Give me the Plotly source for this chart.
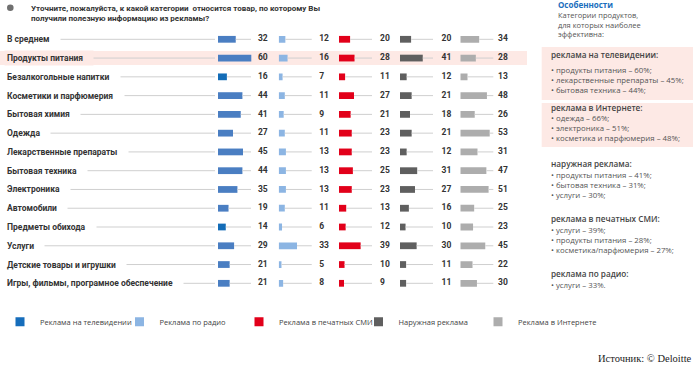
import plotly.graph_objects as go

# ---------------- data ----------------
categories = ["В среднем", "Продукты питания", "Безалкогольные напитки",
              "Косметики и парфюмерия", "Бытовая химия", "Одежда",
              "Лекарственные препараты", "Бытовая техника", "Электроника",
              "Автомобили", "Предметы обихода", "Услуги",
              "Детские товары и игрушки", "Игры, фильмы, програмное обеспечение"]
tv =       [32, 60, 16, 44, 41, 27, 45, 44, 35, 19, 14, 29, 21, 21]
radio =    [12, 16, 7, 11, 9, 11, 13, 13, 13, 11, 6, 33, 5, 8]
press =    [20, 28, 11, 27, 21, 23, 23, 25, 23, 13, 12, 39, 10, 9]
outdoor =  [20, 41, 12, 21, 18, 21, 12, 31, 27, 16, 10, 30, 11, 11]
internet = [34, 28, 13, 48, 26, 53, 31, 47, 51, 25, 23, 45, 22, 30]
series_names = ["Реклама на телевидении", "Реклама по радио", "Реклама в печатных СМИ",
                "Наружная реклама", "Реклама в Интернете"]
highlight_row = "Продукты питания"

title_text = ("Уточните, пожалуйста, к какой категории  относится товар, по которому Вы<br>"
              "получили полезную информацию из рекламы?")
panel_title = "Особенности"
panel_intro = ["Категории продуктов,", "для которых наиболее", "эффективна:"]
panel_sections = [
    ("реклама на телевидении:", ["продукты питания – 60%;", "лекарственные препараты – 45%;", "бытовая техника – 44%;"]),
    ("реклама в Интернете:", ["одежда – 66%;", "электроника – 51%;", "косметика и парфюмерия – 48%;"]),
    ("наружная реклама:", ["продукты питания – 41%;", "бытовая техника – 31%;", "услуги – 30%;"]),
    ("реклама в печатных СМИ:", ["услуги – 39%;", "продукты питания – 28%;", "косметика/парфюмерия – 27%;"]),
    ("реклама по радио:", ["услуги – 33%."]),
]
source_text = "Источник: © Deloitte"

# ---------------- layout helpers ----------------
W, H = 700, 368
ROW0, ROWH = 39.3, 18.77
UNIT = 0.555  # px per percent


def row_of(ypx):
    return (ypx - ROW0) / ROWH


def px(x):
    return x / W


def py(y):
    return 1 - y / H


rows = list(range(len(categories)))
series = [tv, radio, press, outdoor, internet]
col_start_px = [218, 278.7, 339, 400, 460.3]
col_width_px = 58
label_at = [72, 73, 74, 75, 68]
line_end = 59.5
bar_colors = ['#4a7ec2', '#8cb5e3', '#e2001a', '#5f5f5f', '#adadad']
legend_colors = ['#166dbb', '#8cb5e3', '#e2001a', '#5f5f5f', '#adadad']
tv_dark = {"Безалкогольные напитки", "Предметы обихода"}
LINE_C = '#cfcfcf'
BOLD = "Roboto"
LIGHT = "Open Sans"
PINK = '#fde9e5'

fig = go.Figure()

# leader lines from category names to TV bars
lx, ly = [], []
for r in rows:
    lx += [8, 215, None]
    ly += [r, r, None]
fig.add_trace(go.Scatter(x=lx, y=ly, mode='lines', line=dict(color=LINE_C, width=1),
                         xaxis='x', yaxis='y', showlegend=False, hoverinfo='skip'))

for k, vals in enumerate(series):
    ax = 'x%d' % (k + 2)
    colors = bar_colors[k]
    if k == 0:
        colors = ['#136cb7' if c in tv_dark else bar_colors[0] for c in categories]
    # connector lines from bar end to label
    cx, cy = [], []
    for r, v in zip(rows, vals):
        if v < line_end:
            cx += [v, line_end, None]
            cy += [r, r, None]
    fig.add_trace(go.Scatter(x=cx, y=cy, mode='lines', line=dict(color=LINE_C, width=1),
                             xaxis=ax, yaxis='y', showlegend=False, hoverinfo='skip'))
    fig.add_trace(go.Bar(x=vals, y=rows, orientation='h', width=0.36,
                         marker=dict(color=colors, line=dict(width=0)),
                         xaxis=ax, yaxis='y', showlegend=False, hoverinfo='skip'))
    fig.add_trace(go.Scatter(x=[label_at[k]] * len(rows), y=rows, mode='text',
                             text=[str(v) for v in vals], textposition='middle right',
                             textfont=dict(family=BOLD, size=8.5, color='#333', weight='bold'),
                             cliponaxis=False, xaxis=ax, yaxis='y', showlegend=False,
                             hoverinfo='skip'))

# legend entries
for name, c in zip(series_names, legend_colors):
    fig.add_trace(go.Scatter(x=[None], y=[None], mode='markers', name=name,
                             marker=dict(symbol='square', size=9, color=c),
                             xaxis='x', yaxis='y'))

layout = dict(
    width=W, height=H, autosize=False,
    margin=dict(l=0, r=0, t=0, b=0, autoexpand=False),
    paper_bgcolor='white', plot_bgcolor='rgba(0,0,0,0)',
    barmode='overlay',
    yaxis=dict(domain=[0, 1], range=[row_of(H), row_of(0)], visible=False, fixedrange=True),
    xaxis=dict(domain=[0, px(217)], range=[0, 217], visible=False, anchor='y', fixedrange=True),
    legend=dict(orientation='h', x=0, xanchor='left', y=py(321.7), yanchor='middle',
                font=dict(family=LIGHT, size=7.5, color='#444'),
                entrywidth=74.5, entrywidthmode='pixels', itemwidth=30,
                bgcolor='rgba(0,0,0,0)'),
)
for k, s in enumerate(col_start_px):
    layout['xaxis%d' % (k + 2)] = dict(domain=[px(s), px(s + col_width_px)],
                                       range=[0, col_width_px / UNIT], visible=False,
                                       anchor='y', fixedrange=True)
fig.update_layout(**layout)

shapes = []
annotations = []
hl = categories.index(highlight_row)
shapes.append(dict(type='rect', xref='paper', yref='y', x0=0, x1=px(527),
                   y0=hl - 7 / ROWH, y1=hl + 7 / ROWH, fillcolor=PINK,
                   line=dict(width=0), layer='below'))

# category labels (bg box hides the leader line behind them)
for r, c in zip(rows, categories):
    annotations.append(dict(xref='x', yref='y', x=4, y=r, xanchor='left', yanchor='middle',
                            text=c + '\u00a0\u00a0\u00a0\u00a0', showarrow=False,
                            bgcolor=PINK if c == highlight_row else 'white', borderpad=2,
                            font=dict(family=BOLD, size=8.5, color='#333', weight='bold')))

# question icon + title
shapes.append(dict(type='circle', xref='paper', yref='paper', x0=px(7), x1=px(13.6),
                   y0=py(11.1), y1=py(4.5), fillcolor='#707070', line=dict(width=0)))
annotations.append(dict(xref='paper', yref='paper', x=px(10.3), y=py(7.9), text='?',
                        showarrow=False, font=dict(family=BOLD, size=6, color='white', weight='bold')))
annotations.append(dict(xref='paper', yref='paper', x=px(29), y=py(2), xanchor='left',
                        yanchor='top', align='left', text=title_text, showarrow=False,
                        font=dict(family=BOLD, size=8, color='#333', weight='bold')))

# right panel
annotations.append(dict(xref='paper', yref='paper', x=px(556), y=py(4), xanchor='left',
                        yanchor='middle', text=panel_title, showarrow=False,
                        font=dict(family=LIGHT, size=8, color='#1a6ebd', weight='bold')))
for i, t in enumerate(panel_intro):
    annotations.append(dict(xref='paper', yref='paper', x=px(556), y=py(15 + 9.6 * i),
                            xanchor='left', yanchor='middle', text=t, showarrow=False,
                            font=dict(family=LIGHT, size=7.5, color='#555')))
section_header_y = [55, 108, 163, 218, 273]
section_first_y = [70, 117.5, 175, 230, 285]
section_boxes = [(47, 100), (103, 147)]
for y0, y1 in section_boxes:
    shapes.append(dict(type='rect', xref='paper', yref='paper', x0=px(541.7), x1=px(693),
                       y0=py(y1), y1=py(y0), fillcolor=PINK, line=dict(width=0), layer='below'))
for (hdr, items), hy, fy in zip(panel_sections, section_header_y, section_first_y):
    annotations.append(dict(xref='paper', yref='paper', x=px(549), y=py(hy), xanchor='left',
                            yanchor='middle', text=hdr, showarrow=False,
                            font=dict(family=LIGHT, size=8.2, color='#444', weight=600)))
    for i, it in enumerate(items):
        annotations.append(dict(xref='paper', yref='paper', x=px(549), y=py(fy + 10 * i),
                                xanchor='left', yanchor='middle', text='• ' + it,
                                showarrow=False,
                                font=dict(family=LIGHT, size=7.8, color='#555')))

annotations.append(dict(xref='paper', yref='paper', x=px(694), y=py(358), xanchor='right',
                        yanchor='middle', text=source_text, showarrow=False,
                        font=dict(family='Liberation Serif', size=10.5, color='#222')))

fig.update_layout(shapes=shapes, annotations=annotations)
fig.write_html("out.html", config=dict(displayModeBar=False, staticPlot=True),
               post_script="document.body.style.margin='0';document.body.style.overflow='hidden';")
